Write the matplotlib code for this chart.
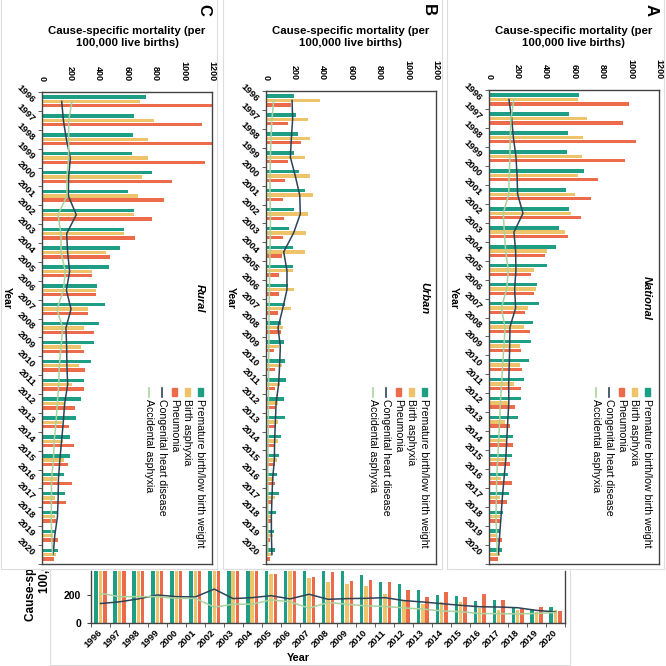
import matplotlib
matplotlib.use("Agg")
import matplotlib.pyplot as plt
from matplotlib.patches import Rectangle
from matplotlib.lines import Line2D
import numpy as np

plt.rcParams['font.family'] = ['Liberation Sans', 'DejaVu Sans']

years = [str(y) for y in range(1996, 2021)]
causes = ["Premature birth/low birth weight", "Birth asphyxia", "Pneumonia",
          "Congenital heart disease", "Accidental asphyxia"]

# National (A)
prem_nat = [635, 565, 560, 548, 668, 543, 562, 496, 471, 409, 336, 353, 313, 296, 280, 249, 228, 207, 169, 160, 132, 139, 99, 80, 94]
birth_nat = [631, 694, 661, 656, 626, 609, 581, 536, 409, 315, 334, 278, 245, 221, 216, 174, 132, 115, 127, 127, 85, 78, 75, 54, 80]
pneu_nat = [985, 944, 1038, 962, 769, 718, 649, 555, 398, 296, 318, 256, 289, 228, 233, 226, 181, 148, 169, 146, 165, 125, 80, 89, 66]
chd_nat = [141, 160, 172, 190, 198, 202, 240, 176, 188, 190, 181, 188, 148, 146, 143, 139, 140, 132, 125, 118, 106, 94, 85, 75, 66]
acc_nat = [176, 155, 150, 148, 143, 139, 101, 108, 118, 136, 125, 87, 113, 106, 96, 89, 80, 75, 68, 61, 54, 52, 49, 54, 59]

# Urban (B)
prem_urb = [195, 214, 228, 195, 235, 278, 200, 165, 193, 188, 155, 136, 104, 129, 132, 141, 125, 134, 108, 92, 75, 92, 68, 54, 66]
birth_urb = [384, 296, 313, 273, 308, 332, 299, 285, 278, 188, 195, 179, 118, 92, 113, 99, 82, 82, 87, 78, 54, 61, 45, 47, 45]
pneu_urb = [179, 158, 245, 158, 136, 118, 129, 118, 113, 92, 92, 85, 104, 59, 66, 66, 66, 61, 59, 61, 66, 42, 42, 26, 28]
chd_urb = [184, 188, 179, 172, 207, 238, 242, 195, 125, 148, 148, 118, 85, 101, 96, 89, 71, 66, 61, 59, 47, 42, 38, 38, 42]
acc_urb = [54, 42, 35, 31, 28, 28, 31, 31, 28, 26, 24, 22, 21, 20, 19, 18, 17, 16, 15, 14, 13, 13, 12, 12, 12]

# Rural (C)
prem_rur = [737, 649, 640, 633, 774, 609, 647, 579, 553, 473, 391, 445, 400, 369, 344, 296, 278, 238, 198, 195, 158, 162, 115, 94, 113]
birth_rur = [689, 791, 746, 748, 704, 675, 647, 579, 449, 351, 379, 322, 296, 275, 261, 209, 158, 139, 148, 153, 108, 94, 92, 75, 96]
pneu_rur = [1250, 1127, 1230, 1151, 920, 859, 774, 659, 478, 351, 381, 327, 365, 299, 306, 294, 235, 188, 224, 186, 209, 167, 101, 113, 85]
chd_rur = [139, 151, 172, 200, 188, 186, 242, 174, 181, 195, 172, 205, 169, 174, 176, 181, 160, 150, 138, 126, 116, 114, 109, 90, 79]
acc_rur = [212, 188, 188, 188, 176, 176, 113, 134, 134, 165, 151, 106, 146, 134, 122, 118, 108, 99, 86, 81, 67, 67, 65, 68, 75]

C_PREM = "#1e9e84"
C_BIRTH = "#efc36a"
C_PNEU = "#ec6b4b"
C_CHD = "#2d4357"
C_ACC = "#a9d39e"
SPINE = "#444444"
TITLE = "Cause-specific mortality (per\n100,000 live births)"

W = H = 666
fig = plt.figure(figsize=(6.66, 6.66), dpi=100)


def px_rect(l, t, r, b):
    return [l / W, 1 - b / H, (r - l) / W, (b - t) / H]


def fx(x):
    return x / W


def fy(y):
    return 1 - y / H


idx = np.arange(len(years))
off = 0.23
bw = 0.18


def rotated_panel(box, prem, birth, pneu, chd, acc, name, letter):
    l, t, r, b = box
    ax = fig.add_axes(px_rect(l, t, r, b), zorder=2)
    ax.barh(idx - off, prem, height=bw, color=C_PREM)
    ax.barh(idx, birth, height=bw, color=C_BIRTH)
    ax.barh(idx + off, pneu, height=bw, color=C_PNEU)
    ax.plot(chd, idx, color=C_CHD, lw=1.1)
    ax.plot(acc, idx, color=C_ACC, lw=1.1)
    ax.set_xlim(0, 1200)
    ax.set_ylim(len(years) - 0.5, -0.5)
    ax.xaxis.tick_top()
    ax.set_xticks(range(0, 1201, 200))
    ax.tick_params(axis='x', length=0, pad=8, labelsize=6.5, labelrotation=-90)
    ax.set_yticks(idx)
    ax.set_yticklabels(years, rotation=-45, ha='right', va='center',
                       rotation_mode='anchor', fontsize=6.8, fontweight='bold')
    ax.set_yticks(np.arange(-0.5, len(years)), minor=True)
    ax.tick_params(axis='y', which='major', length=0, pad=6)
    ax.tick_params(axis='y', which='minor', length=3, color=SPINE)
    for lab in ax.get_xticklabels():
        lab.set_fontweight('bold')
    for s in ax.spines.values():
        s.set_color(SPINE)
        s.set_linewidth(1)

    cx = (l + r) / 2
    fig.text(fx(cx), fy(37), TITLE, ha='center', va='center', fontsize=8.2,
             fontweight='bold', linespacing=1.15)
    fig.text(fx(r - 8), fy(10), letter, ha='center', va='center', fontsize=12,
             fontweight='bold', rotation=-90)
    fig.text(fx(l - 35), fy(298), "Year", ha='center', va='center', fontsize=7.5,
             fontweight='bold', rotation=-90)
    fig.text(fx(r - 12), fy(298), name, ha='center', va='center', fontsize=8,
             fontweight='bold', style='italic', rotation=-90)

    # legend, drawn column by column like the rotated original
    cols = [C_PREM, C_BIRTH, C_PNEU, C_CHD, C_ACC]
    for k, (lab, col) in enumerate(zip(causes, cols)):
        x = r - 12 - 12.8 * k
        if k < 3:
            fig.add_artist(Rectangle((fx(x - 2.5), fy(396)), 5 / W, 8 / H,
                                     transform=fig.transFigure, color=col, zorder=5))
        else:
            fig.add_artist(Line2D([fx(x), fx(x)], [fy(388), fy(397)],
                                  transform=fig.transFigure, color=col, lw=1.2, zorder=5))
        fig.text(fx(x), fy(399), lab, rotation=-90, rotation_mode='anchor',
                 ha='left', va='center', fontsize=7.6, zorder=5)
    return ax


# partly hidden un-rotated rural chart at the bottom
axs = fig.add_axes(px_rect(91, 571, 565, 623), zorder=0)
axs.bar(idx - off, prem_rur, width=bw, color=C_PREM)
axs.bar(idx, birth_rur, width=bw, color=C_BIRTH)
axs.bar(idx + off, pneu_rur, width=bw, color=C_PNEU)
axs.plot(idx, chd_rur, color=C_CHD, lw=1.1)
axs.plot(idx, acc_rur, color=C_ACC, lw=1.1)
axs.set_xlim(-0.5, len(years) - 0.5)
axs.set_ylim(0, 371)
axs.set_yticks([0, 200])
axs.tick_params(axis='y', length=3, pad=4, labelsize=7.5, color=SPINE)
axs.set_xticks(idx)
axs.set_xticklabels(years, rotation=45, ha='right', va='center',
                    rotation_mode='anchor', fontsize=6.8, fontweight='bold')
axs.set_xticks(np.arange(-0.5, len(years)), minor=True)
axs.tick_params(axis='x', which='major', length=0, pad=6)
axs.tick_params(axis='x', which='minor', length=3, color=SPINE)
for lab in axs.get_yticklabels():
    lab.set_fontweight('bold')
axs.spines['top'].set_visible(False)
for s in ['left', 'right', 'bottom']:
    axs.spines[s].set_color(SPINE)
    axs.spines[s].set_linewidth(1)
fig.text(fx(298), fy(658), "Year", ha='center', va='center', fontsize=7.8,
         fontweight='bold', zorder=0.1)
fig.text(fx(38), fy(621), TITLE, rotation=90, ha='center', va='bottom',
         multialignment='center', fontsize=8.5, fontweight='bold',
         linespacing=1.15, zorder=0.1)
fig.add_artist(Rectangle((fx(50), fy(665)), 520 / W, 200 / H, transform=fig.transFigure,
                         fill=False, edgecolor='#dddddd', lw=0.8, zorder=0.2))

# white cover over the top part of the bottom chart
fig.add_artist(Rectangle((0, fy(570)), 1, 570 / H, transform=fig.transFigure,
                         facecolor='white', edgecolor='none', zorder=0.5))
for bl, br in [(1, 217), (223, 442), (447, 664)]:
    fig.add_artist(Rectangle((fx(bl), fy(569)), (br - bl) / W, 575 / H,
                             transform=fig.transFigure, fill=False,
                             edgecolor='#dddddd', lw=0.8, zorder=0.6))

rotated_panel((42, 92, 212, 564), prem_rur, birth_rur, pneu_rur, chd_rur, acc_rur, "Rural", "C")
rotated_panel((266, 91, 436, 564), prem_urb, birth_urb, pneu_urb, chd_urb, acc_urb, "Urban", "B")
rotated_panel((489, 90, 659, 564), prem_nat, birth_nat, pneu_nat, chd_nat, acc_nat, "National", "A")

fig.savefig("out.png", dpi=100)
